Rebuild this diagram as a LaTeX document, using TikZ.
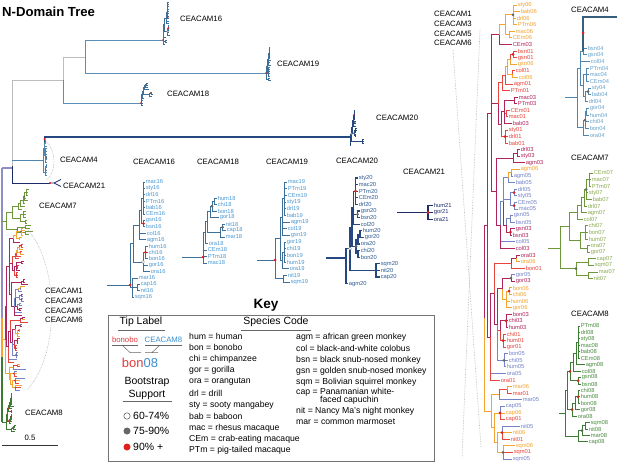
\documentclass[tikz,border=0pt]{standalone}
\usepackage{fontspec}
\setmainfont{Liberation Sans}
\definecolor{cO}{HTML}{F3A530}
\definecolor{cR}{HTML}{E8453C}
\definecolor{cM}{HTML}{B0245C}
\definecolor{cB}{HTML}{7584C8}
\definecolor{lS}{HTML}{3D6F98}
\definecolor{tS}{HTML}{4E9AD4}
\definecolor{lT}{HTML}{24487F}
\definecolor{tT}{HTML}{2D5A92}
\definecolor{nv}{HTML}{1D2B6A}
\definecolor{lF}{HTML}{4F86B0}
\definecolor{tF}{HTML}{6AA3CC}
\definecolor{lV}{HTML}{6E973B}
\definecolor{tV}{HTML}{8BAA52}
\definecolor{lE}{HTML}{3B7B34}
\definecolor{tE}{HTML}{4A8C40}
\definecolor{dred}{HTML}{E0201E}
\definecolor{dgray}{HTML}{666666}
\definecolor{lav}{HTML}{8E8EC2}
\definecolor{gl}{HTML}{BDBDBD}
\definecolor{stl}{HTML}{5A8DB8}
\definecolor{keyred}{HTML}{E03A3A}
\definecolor{keyblue}{HTML}{3A8FD0}
\def\dsz{3bp}
\tikzset{
 tl/.style={anchor=west,inner sep=0.3bp,font=\fontsize{5.8}{6}\selectfont},
 hd/.style={inner sep=0pt,font=\fontsize{7.8}{9}\selectfont},
 kt/.style={inner sep=0pt,font=\fontsize{10.5}{12}\selectfont},
 spc/.style={inner sep=0pt,anchor=west,font=\fontsize{8.7}{10}\selectfont},
 rd/.style={circle,fill=dred,inner sep=0pt,minimum size=\dsz},
 gd/.style={circle,fill=dgray,inner sep=0pt,minimum size=\dsz},
 wd/.style={circle,fill=white,draw=dgray,line width=0.3pt,inner sep=0pt,minimum size=\dsz},
 dotl/.style={gray!60,densely dotted,line width=0.6pt},
}
\newif\iflab \labtrue
\def\ybase{0}\def\ystep{1}
\makeatletter
\newcommand\tpi[6]{%
  \pgfmathsetmacro\tp@y{\ybase+\ystep*#3}%
  \node[tl,text=#5] (#1) at (#2,\tp@y) {\iflab{#6}\fi};%
  \expandafter\xdef\csname ty@#1\endcsname{\tp@y}%
  \expandafter\xdef\csname tc@#1\endcsname{#4}%
}
\newcommand\ndy[5]{%
  \expandafter\xdef\csname ty@#1\endcsname{#3}%
  \expandafter\xdef\csname tc@#1\endcsname{#4}%
  \coordinate (#1) at (#2,#3);%
  \foreach \c in {#5}{\edef\nd@col{\csname tc@\c\endcsname}\draw[color=\nd@col] (#1) |- (\c);}%
}
\newcommand\nd[4]{%
  \gdef\nd@first{}%
  \foreach \c in {#4}{\ifx\nd@first\@empty\xdef\nd@first{\c}\fi\xdef\nd@last{\c}}%
  \edef\nd@ya{\csname ty@\nd@first\endcsname}%
  \edef\nd@yb{\csname ty@\nd@last\endcsname}%
  \pgfmathsetmacro\nd@y{(\nd@ya+\nd@yb)/2}%
  \ndy{#1}{#2}{\nd@y}{#3}{#4}%
}
\makeatother
\newcommand\rdot[1]{\node[rd] at (#1) {};}
\newcommand\gdot[1]{\node[gd] at (#1) {};}
\newcommand\wdot[1]{\node[wd] at (#1) {};}

\newcommand\tSixteen{%
\def\ybase{182}\def\ystep{6.4}%
\foreach \nm/\xx/\ii in {mac16/145/0,sty16/145/1,drl16/145/2,PTm16/145/3,bab16/145/4,CEm16/145/5,gsn16/145/6,bsn16/145/7,col16/146/8,agm16/146/9,hum16/148/10,chi16/148/11,bon16/148/12,gor16/148/13,ora16/150/14,mar16/138/15,cap16/140/16,nit16/140/17,sqm16/134/18}{\tpi{\nm}{\xx}{\ii}{lS}{tS}{\nm}}%
\nd{xa0}{143.5}{lS}{mac16,sty16,drl16,PTm16,bab16,CEm16}%
\nd{xa1}{143.5}{lS}{gsn16,bsn16}%
\nd{xa2}{141.5}{lS}{xa0,xa1}%
\nd{xa3}{139.5}{lS}{xa2,col16,agm16}%
\nd{xh0}{145.5}{lS}{hum16,chi16,bon16}%
\nd{xh1}{143}{lS}{xh0,gor16,ora16}%
\nd{xc0}{133}{lS}{xa3,xh1}%
\nd{xn0}{137}{lS}{cap16,nit16}%
\nd{xn1}{132}{lS}{mar16,xn0,sqm16}%
\ndy{xroot}{130}{285}{lS}{xc0,xn1}%
\rdot{xa1}\rdot{xh0}\wdot{xh1}\rdot{xroot}%
}
\newcommand\tEighteen{%
\def\ybase{198}\def\ystep{6.5}%
\foreach \nm/\xx/\ii in {hum18/217/0,chi18/217/1,bon18/217/2,gor18/219/3,nit18/225/4,cap18/226/5,mar18/225/6,ora18/208/7,CEm18/207/8,PTm18/207/9,mac18/207/10}{\tpi{\nm}{\xx}{\ii}{lS}{tS}{\nm}}%
\nd{ya0}{214}{lS}{hum18,chi18}%
\nd{ya1}{212}{lS}{ya0,bon18}%
\nd{ya2}{210}{lS}{ya1,gor18}%
\nd{yn0}{222.5}{lS}{nit18,cap18}%
\nd{yn1}{220}{lS}{yn0,mar18}%
\nd{yp0}{207.5}{lS}{ya2,yn1}%
\nd{yp1}{205.5}{lS}{yp0,ora18}%
\ndy{yroot}{203}{257}{lS}{yp1,CEm18,PTm18,mac18}%
\gdot{ya1}\gdot{yn0}\rdot{yroot}%
}
\newcommand\tNineteen{%
\def\ybase{182}\def\ystep{6.67}%
\foreach \nm/\xx/\ii in {mac19/287/0,PTm19/287/1,CEm19/287/2,sty19/286/3,drl19/286/4,bab19/286/5,agm19/290/6,col19/287/7,gsn19/290/8,gor19/286/9,chi19/286/10,bon19/286/11,hum19/286/12,ora19/289/13,nit19/287/14,sqm19/290/15}{\tpi{\nm}{\xx}{\ii}{lS}{tS}{\nm}}%
\nd{za0}{284.5}{lS}{mac19,PTm19,CEm19,sty19,drl19,bab19}%
\nd{za1}{282.5}{lS}{za0,agm19,col19,gsn19}%
\nd{zb0}{284}{lS}{gor19,chi19,bon19,hum19}%
\nd{zb1}{282}{lS}{zb0,ora19}%
\nd{zc0}{280}{lS}{za1,zb1}%
\nd{zn0}{283.5}{lS}{nit19,sqm19}%
\ndy{zroot}{275}{260}{lS}{zc0,zn0}%
\rdot{zroot}%
}
\newcommand\tTwenty{%
\def\ybase{178}\def\ystep{6.6}%
\foreach \nm/\xx/\ii in {sty20/358/0,mac20/358/1,PTm20/358/2,CEm20/358/3,drl20/358/4,gsn20/360/5,bsn20/360/6,col20/360/7,hum20/362/8,gor20/364/9,ora20/360/10,chi20/360/11,bon20/360/12,sqm20/380/13,nit20/380/14,cap20/380/15,agm20/348/16}{\tpi{\nm}{\xx}{\ii}{lT}{tT}{\nm}}%
\nd{wa0}{355.5}{lT}{sty20,mac20,PTm20,CEm20,drl20}%
\nd{wa1}{357.5}{lT}{gsn20,bsn20}%
\nd{wa2}{353.5}{lT}{wa0,wa1,col20}%
\nd{wb0}{360}{lT}{hum20,gor20}%
\nd{wb1}{358}{lT}{wb0,ora20}%
\nd{wb2}{358}{lT}{chi20,bon20}%
\nd{wb3}{356}{lT}{wb1,wb2}%
\nd{wc0}{352}{lT}{wa2,wb3}%
\nd{wn0}{376}{lT}{sqm20,nit20,cap20}%
\nd{wn1}{350}{lT}{wc0,wn0}%
\ndy{wroot}{346}{258}{lT}{wn1,agm20}%
\rdot{wa0}\gdot{wa1}\gdot{wb3}\wdot{wn1}%
}
\newcommand\tFour{%
\def\ybase{48}\def\ystep{6.7}%
\foreach \nm/\xx/\ii in {bsn04/587/0,gsn04/587/1,col04/590/2,PTm04/589/3,mac04/589/4,CEm04/589/5,sty04/591/6,bab04/591/7,drl04/588/8,gor04/589/9,hum04/589/10,chi04/589/11,bon04/589/12,ora04/589/13}{\tpi{\nm}{\xx}{\ii}{lF}{tF}{\nm}}%
\nd{va0}{583}{lF}{bsn04,gsn04}%
\nd{va1}{586}{lF}{PTm04,mac04,CEm04}%
\nd{va2}{588}{lF}{sty04,bab04}%
\nd{va3}{585.5}{lF}{va2,drl04}%
\nd{va4}{583}{lF}{va1,va3}%
\nd{va5}{580}{lF}{va0,col04,va4}%
\nd{vb0}{586.5}{lF}{gor04,hum04}%
\nd{vb1}{585}{lF}{vb0,chi04,bon04}%
\nd{vb2}{583}{lF}{vb1,ora04}%
\ndy{vroot}{577}{97}{lF}{va5,vb2}%
\gdot{va2}\gdot{vb1}%
}
\newcommand\tSeven{%
\def\ybase{173}\def\ystep{6.6}%
\foreach \nm/\xx/\ii in {CEm07/593/0,mac07/591/1,PTm07/591/2,sty07/588/3,bab07/592/4,drl07/587/5,agm07/587/6,col07/583/7,chi07/588/8,bon07/588/9,hum07/588/10,ora07/590/11,gor07/590/12,cap07/596/13,sqm07/594/14,mar07/598/15,nit07/593/16}{\tpi{\nm}{\xx}{\ii}{lV}{tV}{\nm}}%
\nd{ua0}{589}{lV}{CEm07,mac07,PTm07}%
\nd{ua1}{586}{lV}{ua0,sty07,bab07}%
\nd{ua2}{584}{lV}{ua1,drl07}%
\nd{ua3}{581}{lV}{ua2,agm07}%
\nd{ua4}{577}{lV}{ua3,col07}%
\nd{ub0}{585}{lV}{chi07,bon07,hum07}%
\nd{ub1}{587}{lV}{ora07,gor07}%
\nd{ub2}{580}{lV}{ub0,ub1}%
\nd{uc0}{569}{lV}{ua4,ub2}%
\nd{un0}{588}{lV}{cap07,sqm07}%
\nd{un1}{588}{lV}{mar07,nit07}%
\nd{un2}{576}{lV}{un0,un1}%
\ndy{uroot}{560}{248}{lV}{uc0,un2}%
\gdot{un2}\gdot{ua1}%
}
\newcommand\tEight{%
\def\ybase{326}\def\ystep{6.44}%
\foreach \nm/\xx/\ii in {PTm08/580/0,drl08/580/1,sty08/580/2,mac08/580/3,bab08/580/4,CEm08/580/5,agm08/585/6,col08/581/7,gsn08/581/8,bsn08/581/9,chi08/580/10,hum08/580/11,bon08/580/12,gor08/580/13,ora08/577/14,sqm08/590/15,nit08/588/16,mar08/590/17,cap08/588/18}{\tpi{\nm}{\xx}{\ii}{lE}{tE}{\nm}}%
\nd{ta0}{578}{lE}{PTm08,drl08,sty08,mac08,bab08,CEm08}%
\nd{ta1}{576}{lE}{ta0,agm08}%
\nd{ta2}{573}{lE}{ta1,col08}%
\nd{ta3}{578}{lE}{gsn08,bsn08}%
\nd{ta4}{570}{lE}{ta2,ta3}%
\nd{tb0}{578}{lE}{chi08,hum08,bon08}%
\nd{tb1}{575}{lE}{tb0,gor08}%
\nd{tb2}{572}{lE}{tb1,ora08}%
\nd{tc0}{567}{lE}{ta4,tb2}%
\nd{tn0}{585}{lE}{sqm08,nit08}%
\nd{tn1}{582}{lE}{tn0,mar08}%
\nd{tn2}{578}{lE}{tn1,cap08}%
\ndy{troot}{565}{413}{lE}{tc0,tn2}%
\rdot{ta3}\rdot{ta4}\rdot{tb0}\rdot{tb2}\gdot{tn1}%
}
\newcommand\tOne{%
\def\ybase{5}\def\ystep{6.58}%
\foreach \nm/\xx/\ii/\cc in {sty06/517/0/cO,bab06/520/1/cO,drl06/516/2/cO,PTm06/517/3/cO,mac06/515/4/cO,CEm06/512/5/cO,CEm03/512/6/cM,bsn01/517/7/cR,gsn01/517/8/cR,gsn06/517/9/cO,col01/515/10/cR,col06/518/11/cO,agm01/513/12/cR,PTm01/510/13/cR,mac03/518/14/cM,PTm03/517/15/cM,CEm01/510/16/cR,mac01/508/17/cR,bab03/512/18/cM,sty01/508/19/cR,drl01/508/20/cR,bab01/508/21/cR,drl03/520/22/cM,sty03/520/23/cM,agm03/525/24/cM,agm06/520/25/cO,agm05/513/26/cB,bab05/515/27/cB,drl05/517/28/cB,sty05/517/29/cB,CEm05/517/30/cB,mac05/518/31/cB,gsn05/513/32/cB,bsn05/515/33/cB,gsn03/515/34/cM,bsn03/512/35/cM,col05/515/36/cB,col03/515/37/cM,ora03/520/38/cM,ora06/520/39/cO,bon01/525/40/cR,gor05/515/41/cB,gor03/515/42/cM,bon06/512/43/cO,chi06/512/44/cO,hum06/510/45/cO,gor06/512/46/cO,bon03/512/47/cM,chi03/508/48/cM,hum03/508/49/cM,chi01/506/50/cR,hum01/506/51/cR,gor01/506/52/cR,bon05/508/53/cB,chi05/508/54/cB,hum05/506/55/cB,ora05/506/56/cB,ora01/500/57/cR,mar06/512/58/cO,mar01/512/59/cR,mar05/522/60/cB,cap05/505/61/cB,cap06/505/62/cO,cap01/505/63/cR,nit05/520/64/cB,nit06/512/65/cO,nit01/510/66/cR,sqm06/515/67/cO,sqm01/513/68/cR,sqm05/512/69/cB}{\tpi{\nm}{\xx}{\ii}{\cc}{\cc}{\nm}}%
\nd{t0}{513}{cO}{sty06,bab06,drl06,PTm06}%
\nd{t1}{509}{cO}{mac06,CEm06}%
\nd{t2}{505}{cO}{t0,t1}%
\nd{t3}{499}{cM}{t2,CEm03}%
\nd{r0}{513}{cR}{bsn01,gsn01}%
\nd{r1}{510}{cO}{r0,gsn06}%
\nd{r2}{512}{cO}{col01,col06}%
\nd{r3}{507}{cO}{r1,r2}%
\nd{r4}{505}{cR}{r3,agm01}%
\nd{r5}{502}{cR}{r4,PTm01}%
\nd{m0}{514}{cM}{mac03,PTm03}%
\nd{m1}{506}{cR}{CEm01,mac01}%
\nd{m2}{504}{cM}{m0,m1,bab03}%
\nd{m3}{505}{cR}{sty01,drl01,bab01}%
\nd{m4}{501}{cM}{m2,m3}%
\nd{m5}{517}{cM}{drl03,sty03}%
\nd{m6}{513}{cM}{m5,agm03}%
\nd{g1}{498}{cM}{r5,m4}%
\nd{b0}{511}{cO}{agm06,agm05}%
\nd{b1}{508}{cB}{b0,bab05}%
\nd{b2}{514}{cB}{drl05,sty05}%
\nd{b3}{514}{cB}{CEm05,mac05}%
\nd{b4}{510}{cB}{b2,b3}%
\nd{b5}{510}{cB}{gsn05,bsn05}%
\nd{b6}{510.5}{cM}{gsn03,bsn03}%
\nd{b7}{506}{cM}{b5,b6}%
\nd{b8}{503}{cB}{b1,b4,b7}%
\nd{b9}{500}{cM}{b8,col05,col03}%
\nd{g2}{496}{cM}{m6,b9}%
\nd{g3}{491}{cM}{t3,g1,g2}%
\nd{a0}{516}{cM}{ora03,ora06}%
\nd{a1}{511}{cR}{a0,bon01}%
\nd{a2}{511}{cM}{gor05,gor03}%
\nd{a3}{509}{cO}{bon06,chi06}%
\nd{a4}{506}{cO}{a3,hum06,gor06}%
\nd{a5}{506}{cM}{bon03,chi03,hum03}%
\nd{a6}{503}{cR}{chi01,hum01,gor01}%
\nd{a7}{504}{cB}{bon05,chi05,hum05}%
\nd{a8}{502}{cM}{a2,a4}%
\nd{a9}{500}{cR}{a5,a6}%
\nd{a10}{497}{cM}{a8,a9,a7}%
\nd{a11}{494}{cM}{a1,a10}%
\nd{a12}{490}{cM}{a11,ora05,ora01}%
\nd{cat}{487}{cM}{g3,a12}%
\nd{n0}{507}{cR}{mar06,mar01}%
\nd{n1}{499}{cO}{n0,mar05}%
\nd{n2}{500}{cO}{cap05,cap06,cap01}%
\nd{n3}{502}{cO}{nit05,nit06,nit01}%
\nd{n4}{503}{cO}{sqm06,sqm01,sqm05}%
\nd{n5}{497}{cO}{n3,n4}%
\nd{n6}{494}{cO}{n2,n5}%
\nd{n7}{491}{cO}{n1,n6}%
\nd{root}{484}{cO}{cat,n7}%
\rdot{r0}\rdot{b2}\rdot{b3}\rdot{b6}\rdot{a3}\rdot{a5}\rdot{a6}\rdot{n2}\rdot{n3}\rdot{m3}\gdot{a7}\gdot{n4}\gdot{a2}\gdot{t0}%
}

\begin{document}
\begin{tikzpicture}[x=1bp,y=-1bp]
\fill[white] (0,0) rectangle (617,463);
\useasboundingbox (0,0) rectangle (617,463);

% dotted guide lines
\draw[dotl] (43,139) .. controls (57,148) and (57,172) .. (46,181);
\draw[dotl] (27,229) .. controls (60,265) and (60,355) .. (27,390);
\draw[dotl] (480,30) -- (462,458);
\draw[dotl] (453,50) -- (481,447);

% ---- enlarged panels ----
\begin{scope}[line width=0.9pt]
 \tOne
\end{scope}
\begin{scope}[line width=1pt]
 \draw[lS] (107,285) -- (130,285);
 \draw[lS] (182,257) -- (203,257);
 \draw[lS] (257,260) -- (275,260);
 \tSixteen
 \tEighteen
 \tNineteen
\end{scope}
\begin{scope}[line width=1.1pt]
 \draw[lT] (326,258) -- (346,258);
 \tTwenty
\end{scope}
\begin{scope}[line width=0.9pt]
 \draw[lF] (565,97) -- (577,97);
 \draw[lV] (548,248) -- (560,248);
 \draw[lE] (559,413) -- (565,413);
 \tFour
 \tSeven
 \tEight
 \draw[lF!70!black,line width=1.6pt] (617,17) -| (va0);
 \node[rd] at (583,33) {};
\end{scope}
\begin{scope}[line width=1.1pt,nv]
 \node[tl,text=nv] (hum21) at (433,205.5) {hum21};
 \node[tl,text=nv] (gor21) at (433,212.5) {gor21};
 \node[tl,text=nv] (ora21) at (433,219.5) {ora21};
 \coordinate (k21) at (428,212.5);
 \draw (397,212.5) -- (k21);
 \foreach \c in {hum21,gor21,ora21} \draw (k21) |- (\c);
 \node[rd] at (k21) {};
\end{scope}

% ---- main tree ----
\begin{scope}[line width=0.9pt]
 \draw[gl] (12,80) -- (12,166) (12,80) -- (63,80) (63,57) -- (63,80) (63,57) -- (85,57);
 \draw[stl] (63,80) -- (63,103) -- (141,103);
 \draw[stl] (85,40) -- (85,73) (85,40) -- (163,40) (85,73) -- (266,73);
 \draw[nv] (12,166) -- (12,183) -- (50,183);
 \draw[lF] (12,160) -- (43,160);
 \draw[lav,line width=1.2pt] (2,168) -- (12,168);
 \draw[lav,line width=2pt] (2,168) -- (2,318);
 \draw[cO,line width=1.6pt] (2,318) -- (2,357);
 \draw[lE,line width=1.2pt] (2,357) -- (2,422);
 \draw[lV] (2,221) -- (6,221);
 \draw[lE] (2,422) -- (6,422);
\end{scope}
\begin{scope}[line width=0.5pt]
 \labfalse\def\dsz{1.8bp}
 \begin{scope}[shift={(117.5,-65.45)},xscale=.35,yscale=.37]\tSixteen\end{scope}
 \begin{scope}[shift={(39.5,15.62)},xscale=.5,yscale=.34]\tEighteen\end{scope}
 \begin{scope}[shift={(183.5,-12.8)},xscale=.3,yscale=.33]\tNineteen\end{scope}
 \begin{scope}[shift={(211.6,51.86)},xscale=.4,yscale=.33]\tTwenty\end{scope}
 \begin{scope}[shift={(-130.1,121.2)},xscale=.3,yscale=.4]\tFour\end{scope}
 \begin{scope}[shift={(-386,116.84)},xscale=.7,yscale=.42]\tSeven\end{scope}
 \begin{scope}[shift={(-220,285.71)},xscale=.4,yscale=.33]\tEight\end{scope}
 \begin{scope}[shift={(-261.2,226.2)},xscale=.55,yscale=.357]\tOne\end{scope}
\end{scope}
\coordinate (mb) at (2,0);
\draw[cO,line width=0.9pt] (root -| mb) -- (root);
\draw[lT,line width=1.1pt] (wroot) -| (va0);
\node[rd,minimum size=2.4bp] at (44.8,139) {};
\draw[nv,line width=0.8pt] (50,183) -- (54,183) -- (61,179.5) (54,183) -- (61,186.5);
\node[rd,minimum size=2.4bp] at (50,183) {};

% scale bar
\draw[black!80,line width=0.8pt] (2,445) -- (58,445);
\node[hd] at (30,438) {0.5};

% ---- labels ----
\node[anchor=west,inner sep=0pt,font=\fontsize{13.2}{15}\selectfont\bfseries] at (2,12) {N-Domain Tree};
\node[hd,anchor=west] at (180,19) {CEACAM16};
\node[hd,anchor=west] at (277,64) {CEACAM19};
\node[hd,anchor=west] at (167,94) {CEACAM18};
\node[hd,anchor=west] at (376,118) {CEACAM20};
\node[hd,anchor=west] at (60,160) {CEACAM4};
\node[hd,anchor=west] at (63,186) {CEACAM21};
\node[hd,anchor=west] at (39,206) {CEACAM7};
\node[hd,anchor=west] at (45,291) {CEACAM1};
\node[hd,anchor=west] at (45,300.7) {CEACAM3};
\node[hd,anchor=west] at (45,310.5) {CEACAM5};
\node[hd,anchor=west] at (45,320.3) {CEACAM6};
\node[hd,anchor=west] at (25,413) {CEACAM8};
\node[hd] at (154,162) {CEACAM16};
\node[hd] at (218,162) {CEACAM18};
\node[hd] at (287,162) {CEACAM19};
\node[hd] at (357,161) {CEACAM20};
\node[hd] at (424,172) {CEACAM21};
\node[hd] at (453,14) {CEACAM1};
\node[hd] at (453,23.7) {CEACAM3};
\node[hd] at (453,33.4) {CEACAM5};
\node[hd] at (453,43) {CEACAM6};
\node[hd] at (590,10) {CEACAM4};
\node[hd] at (590,158) {CEACAM7};
\node[hd] at (590,314) {CEACAM8};

% ---- key ----
\draw[black!55,line width=0.8pt] (108,315) rectangle (434,461.5);
\node[inner sep=0pt,font=\fontsize{13.6}{15}\selectfont\bfseries] at (266,305) {Key};
\node[kt] at (141,322) {Tip Label};
\node[kt] at (276,322) {Species Code};
\draw[black!60,line width=0.7pt] (118,330) -- (165,330) (241,330) -- (311,330);
\node[hd,text=keyred] at (125,340) {bonobo};
\node[hd,text=keyblue] at (163.5,340) {CEACAM8};
\draw[black!60,line width=0.5pt] (112,345) -- (138,345) (145,345) -- (182,345);
\draw[black!60,line width=0.5pt] (122,345) -- (130,352.5) -- (141,352.5) (160,345) -- (152,352.5) (145,352.5) -- (158,352.5);
\node[inner sep=0pt,font=\fontsize{13}{15}\selectfont] at (140,363) {\textcolor{keyred}{bon}\textcolor{keyblue}{08}};
\node[kt] at (147,382) {Bootstrap};
\node[kt] at (147,395) {Support};
\draw[black!60,line width=0.7pt] (123,401.5) -- (172,401.5);
\draw[black!70,fill=white,line width=0.5pt] (127,416) circle (3.2bp);
\fill[dgray] (127,431) circle (3.5bp);
\fill[dred] (127,447) circle (3.5bp);
\node[kt,anchor=west] at (133,416) {60-74\%};
\node[kt,anchor=west] at (133,431) {75-90\%};
\node[kt,anchor=west] at (133,447) {90\% +};
\foreach \spt [count=\k from 0] in {hum = human,bon = bonobo,chi = chimpanzee,gor = gorilla,ora = orangutan,drl = drill,sty = sooty mangabey,bab = baboon,mac = rhesus macaque,CEm = crab-eating macaque,PTm = pig-tailed macaque}
  \node[spc] at (189,{336+11.47*\k}) {\spt};
\node[spc] at (296,337.3) {agm = african green monkey};
\node[spc] at (296,348.3) {col = black-and-white colobus};
\node[spc] at (296,360) {bsn = black snub-nosed monkey};
\node[spc] at (296,371.7) {gsn = golden snub-nosed monkey};
\node[spc] at (296,382.7) {sqm = Bolivian squirrel monkey};
\node[spc] at (296,392.7) {cap = Panamanian white-};
\node[spc] at (320,400.7) {faced capuchin};
\node[spc] at (296,411) {nit = Nancy Ma's night monkey};
\node[spc] at (296,421.5) {mar = common marmoset};
\end{tikzpicture}
\end{document}
